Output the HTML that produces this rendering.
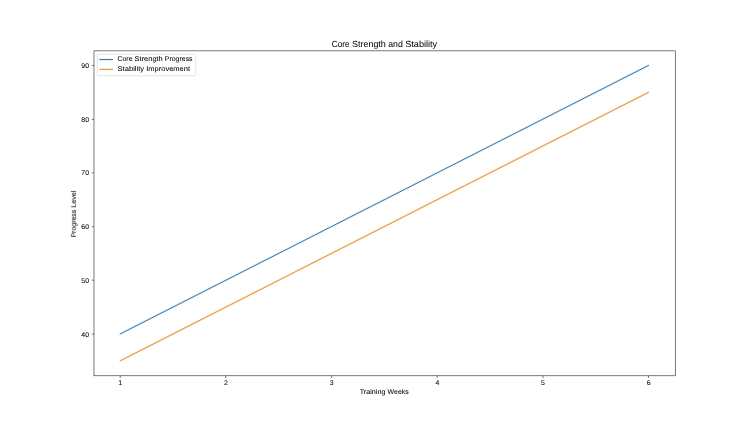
<!DOCTYPE html>
<html lang="en">
<head>
<meta charset="utf-8">
<title>Core Strength and Stability</title>
<style>
html,body{margin:0;padding:0;background:#fff;}
body{width:750px;height:422px;overflow:hidden;}
svg{display:block;}
text{font-family:"Liberation Sans",sans-serif;fill:#000;text-rendering:geometricPrecision;}
.w{stroke:#000;stroke-width:0.10;}
.wt{stroke:#000;stroke-width:0.09;}
.d{stroke:#000;stroke-width:0.10;}
</style>
</head>
<body>
<svg width="750" height="422" viewBox="0 0 1600 900" preserveAspectRatio="none">
<rect x="0" y="0" width="1600" height="900" fill="#ffffff"/>
<!-- data lines: faint chroma-bleed underlay + core stroke -->
<g fill="none" stroke-linecap="square">
<line x1="256.36" y1="712.23" x2="1383.64" y2="139.50" stroke="#def1ff" stroke-width="5.400" stroke-linecap="butt"/>
<line x1="256.36" y1="712.23" x2="1383.64" y2="139.50" stroke="#3b709a" stroke-width="2.083"/>
<line x1="256.36" y1="769.50" x2="1383.64" y2="196.77" stroke="#ffedce" stroke-width="5.400" stroke-linecap="butt"/>
<line x1="256.36" y1="769.50" x2="1383.64" y2="196.77" stroke="#dc8e48" stroke-width="2.083"/>
</g>
<!-- axes frame -->
<rect x="200.50" y="108.50" width="1240.00" height="693.00" fill="none" stroke="#000" stroke-width="1.111"/>
<!-- ticks -->
<g stroke="#000" stroke-width="1.111">
<line x1="256.50" y1="801.50" x2="256.50" y2="806.36"/>
<line x1="481.50" y1="801.50" x2="481.50" y2="806.36"/>
<line x1="707.50" y1="801.50" x2="707.50" y2="806.36"/>
<line x1="932.50" y1="801.50" x2="932.50" y2="806.36"/>
<line x1="1158.50" y1="801.50" x2="1158.50" y2="806.36"/>
<line x1="1383.50" y1="801.50" x2="1383.50" y2="806.36"/>
<line x1="195.64" y1="712.50" x2="200.50" y2="712.50"/>
<line x1="195.64" y1="597.50" x2="200.50" y2="597.50"/>
<line x1="195.64" y1="483.50" x2="200.50" y2="483.50"/>
<line x1="195.64" y1="368.50" x2="200.50" y2="368.50"/>
<line x1="195.64" y1="254.50" x2="200.50" y2="254.50"/>
<line x1="195.64" y1="139.50" x2="200.50" y2="139.50"/>
</g>
<!-- legend -->
<rect x="207.5" y="115.5" width="210" height="46" rx="2.78" ry="2.78" fill="#ffffff" fill-opacity="0.8" stroke="#cccccc" stroke-opacity="0.80" stroke-width="1.389"/>
<line x1="212" y1="127" x2="241" y2="127" stroke="#def1ff" stroke-width="4.600"/>
<line x1="212" y1="148" x2="241" y2="148" stroke="#ffedce" stroke-width="4.600"/>
<line x1="212" y1="127" x2="241" y2="127" stroke="#3b709a" stroke-width="2.083"/>
<line x1="212" y1="148" x2="241" y2="148" stroke="#dc8e48" stroke-width="2.083"/>
<!-- text (group opacity forces greyscale antialiasing) -->
<g opacity="0.999">
<!-- x tick labels -->
<text x="256.66" y="821.09" font-size="14.60" class="d" text-anchor="middle" textLength="8.35" lengthAdjust="spacingAndGlyphs">1</text>
<text x="482.12" y="821.09" font-size="14.60" class="d" text-anchor="middle" textLength="8.22" lengthAdjust="spacingAndGlyphs">2</text>
<text x="707.57" y="821.09" font-size="14.60" class="d" text-anchor="middle" textLength="8.22" lengthAdjust="spacingAndGlyphs">3</text>
<text x="933.03" y="821.09" font-size="14.60" class="d" text-anchor="middle" textLength="8.22" lengthAdjust="spacingAndGlyphs">4</text>
<text x="1158.48" y="821.09" font-size="14.60" class="d" text-anchor="middle" textLength="8.22" lengthAdjust="spacingAndGlyphs">5</text>
<text x="1383.94" y="821.09" font-size="14.60" class="d" text-anchor="middle" textLength="8.35" lengthAdjust="spacingAndGlyphs">6</text>
<!-- y tick labels -->
<text x="189.98" y="718.72" font-size="14.60" class="d" text-anchor="end" textLength="16.45" lengthAdjust="spacingAndGlyphs">40</text>
<text x="189.98" y="603.55" font-size="14.60" class="d" text-anchor="end" textLength="16.45" lengthAdjust="spacingAndGlyphs">50</text>
<text x="189.98" y="488.39" font-size="14.60" class="d" text-anchor="end" textLength="16.45" lengthAdjust="spacingAndGlyphs">60</text>
<text x="189.98" y="373.22" font-size="14.60" class="d" text-anchor="end" textLength="16.45" lengthAdjust="spacingAndGlyphs">70</text>
<text x="189.98" y="260.19" font-size="14.60" class="d" text-anchor="end" textLength="16.45" lengthAdjust="spacingAndGlyphs">80</text>
<text x="189.98" y="145.02" font-size="14.60" class="d" text-anchor="end" textLength="16.45" lengthAdjust="spacingAndGlyphs">90</text>
<!-- axis labels -->
<text x="767.39" y="840.28" font-size="14.60" class="w" textLength="55.00" lengthAdjust="spacingAndGlyphs">Training</text>
<text x="826.77" y="840.28" font-size="14.60" class="w" textLength="45.25" lengthAdjust="spacingAndGlyphs">Weeks</text>
<g transform="translate(162.13,506.42) rotate(-90)">
<text x="0.00" y="0.00" font-size="14.60" class="w" textLength="59.25" lengthAdjust="spacingAndGlyphs">Progress</text>
<text x="63.62" y="0.00" font-size="14.60" class="w" textLength="36.62" lengthAdjust="spacingAndGlyphs">Level</text>
</g>
<!-- title -->
<text x="707.56" y="100.24" font-size="19.00" class="wt" textLength="38.38" lengthAdjust="spacingAndGlyphs">Core</text>
<text x="751.18" y="100.24" font-size="19.00" class="wt" textLength="71.75" lengthAdjust="spacingAndGlyphs">Strength</text>
<text x="828.18" y="100.24" font-size="19.00" class="wt" textLength="31.12" lengthAdjust="spacingAndGlyphs">and</text>
<text x="864.56" y="100.24" font-size="19.00" class="wt" textLength="67.88" lengthAdjust="spacingAndGlyphs">Stability</text>
<text x="250.49" y="130.09" font-size="14.60" class="w" textLength="32.25" lengthAdjust="spacingAndGlyphs">Core</text>
<text x="287.11" y="130.09" font-size="14.60" class="w" textLength="60.12" lengthAdjust="spacingAndGlyphs">Strength</text>
<text x="351.61" y="130.09" font-size="14.60" class="w" textLength="59.25" lengthAdjust="spacingAndGlyphs">Progress</text>
<text x="250.49" y="151.42" font-size="14.60" class="w" textLength="57.12" lengthAdjust="spacingAndGlyphs">Stability</text>
<text x="311.99" y="151.42" font-size="14.60" class="w" textLength="93.38" lengthAdjust="spacingAndGlyphs">Improvement</text>
</g>
</svg>
</body>
</html>
